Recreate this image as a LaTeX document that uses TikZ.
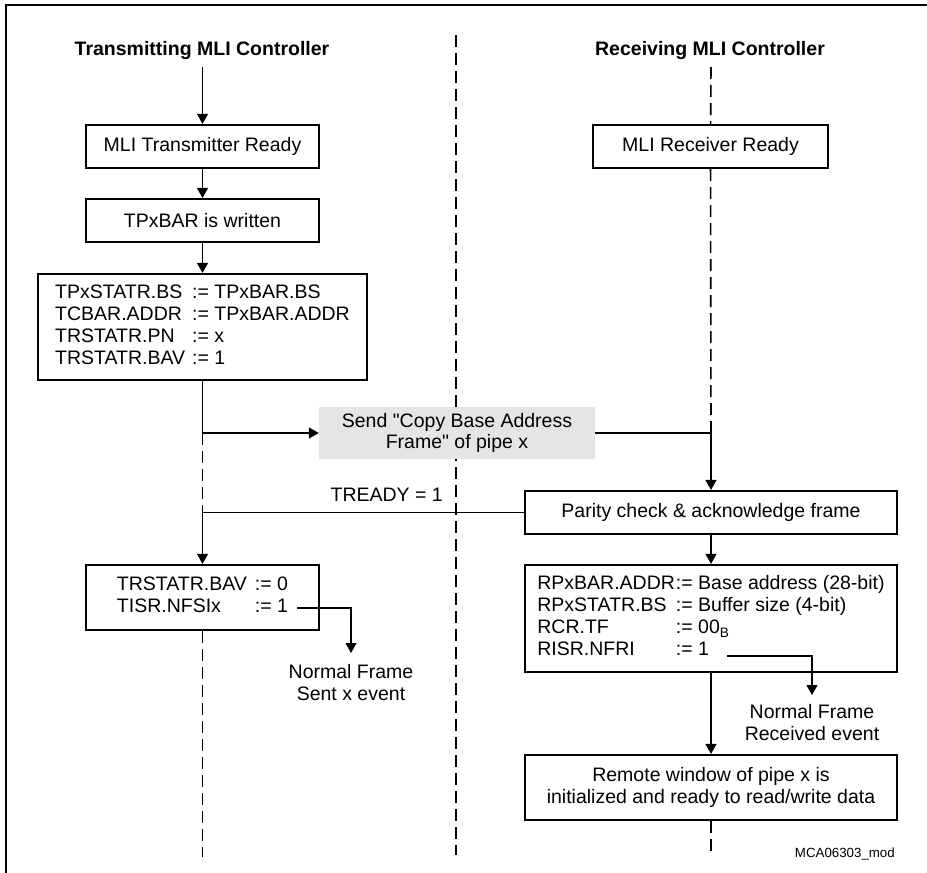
\documentclass[tikz,border=0pt]{standalone}
\usepackage{fontspec}
\setmainfont{Liberation Sans}
\usetikzlibrary{arrows.meta}
\newcommand\strq{\XeTeXglyph\XeTeXcharglyph"22\relax}
\begin{document}
\begin{tikzpicture}[x=1pt,y=-1pt,
  every node/.style={font=\fontsize{19.5}{22}\selectfont, inner sep=0pt},
  box/.style={draw, line width=2.2pt},
  conn/.style={line width=1.1pt},
  arr/.style={conn, -{Triangle[length=10pt,width=11pt]}},
  dsh/.style={line width=1.6pt, dash pattern=on 12pt off 6pt},
  title/.style={font=\fontsize{19.5}{22}\selectfont\bfseries},
  evt/.style={align=center, anchor=north}]
\useasboundingbox (0,0) rectangle (927,873);
% frame
\draw[line width=1.5pt] (927,5) -- (6,5) -- (6,873);
% separator
\coordinate (m1) at (456,35);
\coordinate (m2) at (456,855);
\draw[dsh, line width=1.9pt] (m1) -- (m2);
% titles
\node[title] (t1) at (202,50) {Transmitting MLI Controller};
\node[title] (t2) at (710,50) {Receiving MLI Controller};
\coordinate (t1s) at (202.5,67);
\coordinate (t2s) at (711,67);
% left boxes
\node[box, minimum width=233pt, minimum height=43pt] (tb1) at (202.5,146.5) {MLI Transmitter Ready};
\node[box, minimum width=233pt, minimum height=43pt] (tb2) at (202.5,220.5) {TPxBAR is written};
\node[box, minimum width=329pt, minimum height=106pt] (tb3) at (202.5,327)
  {\begin{tabular}{@{}l@{\hspace{7pt}}l@{}}
   TPxSTATR.BS & := TPxBAR.BS\\
   TCBAR.ADDR & := TPxBAR.ADDR\\
   TRSTATR.PN & := x\\
   TRSTATR.BAV & := 1
   \end{tabular}};
\node[box, minimum width=233pt, minimum height=65pt] (tb4) at (202.5,597.5)
  {\begin{tabular}{@{}l@{\hspace{8pt}}l@{}}
   TRSTATR.BAV & := 0\\
   TISR.NFSIx & := 1
   \end{tabular}};
% right boxes
\node[box, minimum width=235pt, minimum height=43pt] (rr) at (710.5,146.5) {MLI Receiver Ready};
\node[fill=gray!20, minimum width=276pt, minimum height=52pt, align=center,
      font=\fontsize{19.5}{21}\selectfont] (send) at (457,433)
  {Send \strq Copy Base Address\\Frame\strq{} of pipe x};
\node[box, minimum width=372pt, minimum height=43pt] (parity) at (711,512.5) {Parity check \& acknowledge frame};
\node[box, minimum width=372pt, minimum height=107pt] (rpx) at (711,618.5)
  {\begin{tabular}{@{}l@{\hspace{1pt}}l@{}}
   RPxBAR.ADDR & := Base address (28-bit)\\
   RPxSTATR.BS & := Buffer size (4-bit)\\
   RCR.TF & := 00\textsubscript{B}\\
   RISR.NFRI & := 1
   \end{tabular}};
\node[box, minimum width=372pt, minimum height=65pt, align=center] (remote) at (711,787.5)
  {Remote window of pipe x is\\initialized and ready to read/write data};
% labels
\node[anchor=east] (tready) at (443,495) {TREADY = 1};
\node[evt, outer ysep=11pt] (nf1) at (351,653) {Normal Frame\\Sent x event};
\node[evt, outer ysep=9pt] (nf2) at (812,695) {Normal Frame\\Received event};
\node[anchor=east, font=\fontsize{13.3}{15}\selectfont] (mca) at (895,854) {MCA06303\_mod};
% helper coordinates
\coordinate (b1) at (202.5,433);
\coordinate (b2) at (202.5,512.5);
\coordinate (e1) at (202.5,857);
\coordinate (r1) at (711,433);
\coordinate (e2) at (711,857);
\coordinate (ev1) at (297,608);
\coordinate (ev2) at (727,656);
% left lifeline
\draw[arr] (t1s) -- (tb1);
\draw[arr] (tb1) -- (tb2);
\draw[arr] (tb2) -- (tb3);
\draw[conn] (tb3) -- (b1);
\draw[arr] (b1) -- (send.west);
\draw[dsh] (b1) -- (b2);
\draw[arr] (parity.west) -| (tb4.north);
\draw[dsh] (tb4) -- (e1);
% right lifeline
\draw[dsh] (t2s) -- (rr);
\draw[dsh] (rr) -- (r1);
\draw[conn] (send.east) -- (r1);
\draw[arr] (r1) -- (parity.north);
\draw[arr] (parity) -- (rpx);
\draw[arr] (rpx) -- (remote);
\draw[dsh] (remote) -- (e2);
% events
\draw[arr] (ev1) -| (nf1.north);
\draw[arr] (ev2) -| (nf2.north);
\end{tikzpicture}
\end{document}
